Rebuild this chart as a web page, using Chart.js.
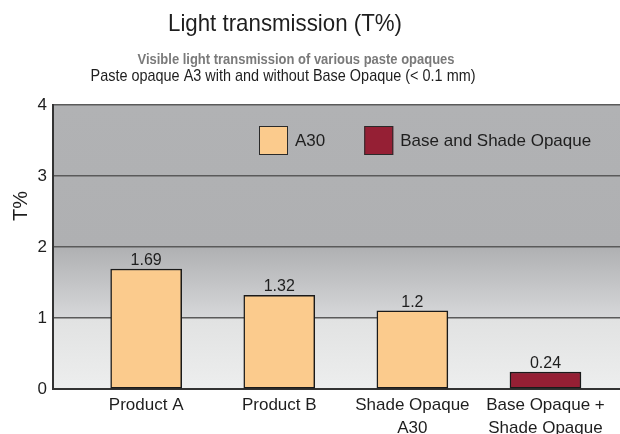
<!DOCTYPE html>
<html><head><meta charset="utf-8">
<script src="https://cdn.jsdelivr.net/npm/chart.js@4/dist/chart.umd.min.js"></script>
<style>html,body{margin:0;padding:0;background:#fff}</style>
</head><body>
<canvas id="c" width="620" height="434"></canvas>
<script>
const categories = ['Product A', 'Product B', 'Shade Opaque\nA30', 'Base Opaque +\nShade Opaque'];
const seriesNames = ['A30', 'Base and Shade Opaque'];
const a30Values = [1.69, 1.32, 1.1, null];
const baseValues = [null, null, null, 0.24];
const valueLabels = ['1.69', '1.32', '1.2', '0.24'];
const yTicks = [0, 1, 2, 3, 4];
const titleText = 'Light transmission (T%)';
const subtitle1 = 'Visible light transmission of various paste opaques';
const subtitle2 = 'Paste opaque A3 with and without Base Opaque (< 0.1 mm)';
const yTitle = 'T%';

const FONT = "'Liberation Sans', Arial, sans-serif";
const INK = '#1e1e1e';
const colA30 = '#FBCB8D';
const colBase = '#951F34';

const toPoints = arr => arr.map((v, i) => v == null ? null : {x: i, y: v}).filter(p => p);

const bgPlugin = {
  id: 'bg',
  beforeDraw(chart) {
    const {ctx, chartArea: a, scales: {y}} = chart;
    const f = p => Math.min(1, Math.max(0, (p - a.top) / (a.bottom - a.top)));
    const y2 = f(y.getPixelForValue(2)), y1 = f(y.getPixelForValue(1));
    const g = ctx.createLinearGradient(0, a.top, 0, a.bottom);
    g.addColorStop(0, '#B1B2B4');
    g.addColorStop(y2, '#AFB0B2');
    g.addColorStop(y1 - 0.004, '#D6D7D9');
    g.addColorStop(y1 + 0.004, '#E1E2E2');
    g.addColorStop(1, '#EDEEEE');
    ctx.save();
    ctx.fillStyle = g;
    ctx.fillRect(a.left, a.top, a.right - a.left, a.bottom - a.top);
    ctx.restore();
  }
};

const labelPlugin = {
  id: 'vals',
  afterDatasetsDraw(chart) {
    const ctx = chart.ctx;
    ctx.save();
    ctx.font = '16px ' + FONT;
    ctx.fillStyle = INK;
    ctx.textAlign = 'center';
    ctx.textBaseline = 'alphabetic';
    chart.data.datasets.forEach((ds, di) => {
      const meta = chart.getDatasetMeta(di);
      meta.data.forEach((el, j) => {
        const idx = ds.data[j].x;
        ctx.fillText(valueLabels[idx], el.x, el.y - 4);
      });
    });
    // legend inside plot
    const a = chart.chartArea;
    let x = a.left + 206;
    const top = a.top + 21;
    ctx.font = '17px ' + FONT;
    ctx.textAlign = 'left';
    ctx.textBaseline = 'middle';
    chart.data.datasets.forEach(ds => {
      ctx.fillStyle = ds.backgroundColor;
      ctx.fillRect(x, top, 29, 29);
      ctx.strokeStyle = '#2a2a2a';
      ctx.lineWidth = 1;
      ctx.strokeRect(x + 0.5, top + 0.5, 28, 28);
      ctx.fillStyle = INK;
      ctx.fillText(ds.label, x + 36, top + 15);
      x += 36 + ctx.measureText(ds.label).width + 39;
    });
    ctx.restore();
  }
};

function condensedText(ctx, text, cx, baseline, font, targetWidth) {
  ctx.save();
  ctx.font = font;
  const w = ctx.measureText(text).width;
  const sx = Math.min(1, targetWidth / w);
  ctx.translate(cx, baseline);
  ctx.scale(sx, 1);
  ctx.textAlign = 'center';
  ctx.textBaseline = 'alphabetic';
  ctx.fillText(text, 0, 0);
  ctx.restore();
}

const titlePlugin = {
  id: 'titles',
  afterDraw(chart) {
    const ctx = chart.ctx;
    ctx.save();
    ctx.fillStyle = INK;
    condensedText(ctx, titleText, 285, 31, '24px ' + FONT, 234);
    ctx.fillStyle = '#7a7a7a';
    condensedText(ctx, subtitle1, 296, 64, 'bold 15px ' + FONT, 317);
    ctx.fillStyle = INK;
    condensedText(ctx, subtitle2, 283, 81, '17px ' + FONT, 385);
    ctx.translate(21, 206);
    ctx.rotate(-Math.PI / 2);
    ctx.textAlign = 'center';
    ctx.textBaseline = 'middle';
    ctx.font = '20px ' + FONT;
    ctx.fillText(yTitle, 0, 0);
    ctx.restore();
  }
};

new Chart(document.getElementById('c'), {
  type: 'bar',
  data: {
    datasets: [
      {label: seriesNames[0], data: toPoints(a30Values), backgroundColor: colA30, borderColor: '#1a1a1a',
       borderWidth: 1.5, borderSkipped: false, barThickness: 71, grouped: false},
      {label: seriesNames[1], data: toPoints(baseValues), backgroundColor: colBase, borderColor: '#1a1a1a',
       borderWidth: 1.5, borderSkipped: false, barThickness: 71, grouped: false}
    ]
  },
  options: {
    responsive: false,
    animation: false,
    layout: {padding: {top: 105, left: 0, right: 0, bottom: 0}},
    plugins: {legend: {display: false}, tooltip: {enabled: false}, title: {display: false}},
    scales: {
      x: {
        type: 'linear', min: -0.7, max: 3.56, offset: false,
        afterBuildTicks: s => { s.ticks = categories.map((_, i) => ({value: i})); },
        afterFit: s => { s.height = 45; },
        grid: {display: false, drawTicks: false},
        border: {display: true, color: '#333', width: 2},
        ticks: {
          callback: v => categories[v] ? categories[v].split('\n') : '',
          color: INK, font: {family: FONT, size: 17, lineHeight: 1.35},
          padding: 5, maxRotation: 0, autoSkip: false
        }
      },
      y: {
        min: 0, max: 4,
        afterBuildTicks: s => { s.ticks = yTicks.map(v => ({value: v})); },
        afterFit: s => { s.width = 53; },
        grid: {color: '#5a5a5a', lineWidth: 1.5, drawTicks: false},
        border: {display: true, color: '#333', width: 2},
        ticks: {color: INK, font: {family: FONT, size: 17}, padding: 6}
      }
    }
  },
  plugins: [bgPlugin, labelPlugin, titlePlugin]
});
</script>
</body></html>
